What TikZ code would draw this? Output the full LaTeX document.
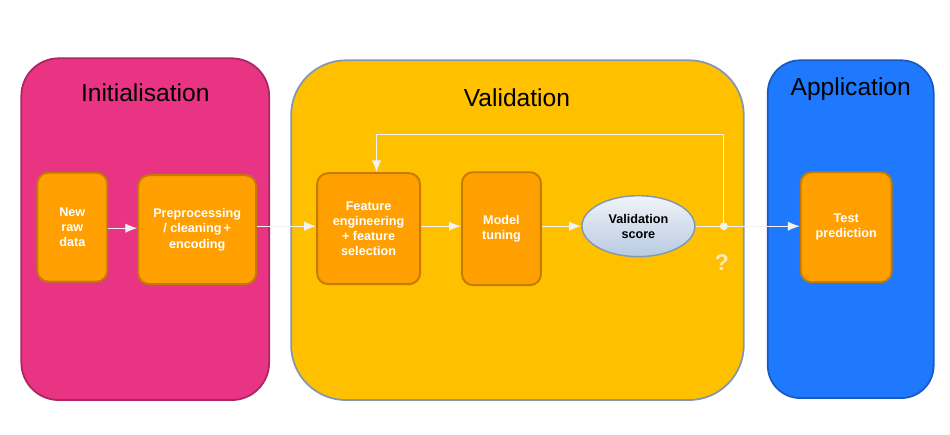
\documentclass[tikz,border=0pt]{standalone}
\usepackage{fontspec}
\setmainfont{Liberation Sans}
\usetikzlibrary{shapes, arrows, arrows.meta}
\usetikzlibrary{positioning}

\definecolor{initPink}{RGB}{232,52,130}
\definecolor{initBorder}{RGB}{172,38,98}
\definecolor{valYellow}{RGB}{255,192,0}
\definecolor{valBorder}{RGB}{132,151,176}
\definecolor{appBlue}{RGB}{30,121,255}
\definecolor{appBorder}{RGB}{24,90,190}
\definecolor{stepOrange}{RGB}{255,160,0}
\definecolor{stepBorder}{RGB}{196,124,0}
\definecolor{arrowWhite}{RGB}{242,242,242}
\definecolor{scoreTop}{RGB}{240,244,249}
\definecolor{scoreBottom}{RGB}{184,202,224}
\definecolor{scoreBorder}{RGB}{128,150,178}
\definecolor{askYellow}{RGB}{255,234,180}

\begin{document}
\begin{tikzpicture}[x=0.02cm, y=-0.02cm, >={Latex[length=2.4mm, width=1.9mm]}]
	\draw[use as bounding box, transparent] (0,0) rectangle (950,434);

	% Define the macros.
	% \pipelineStage
	% 1st argument: Name of the stage node.
	% 2nd argument: Centre of the stage.
	% 3rd argument: Width and height of the stage (in px).
	% 4th argument: Options for the stage body.
	% 5th argument: Title of the stage.
	% 6th argument: Position of the title.
	\newcommand{\pipelineStage}[6]{
		\node[#4, minimum width=#3] (#1) at #2 {};
		\node[font=\fontsize{14}{16}\selectfont] (#1Title) at #6 {#5};
	}
	% \pipelineStep
	% 1st argument: Name of the step node.
	% 2nd argument: Centre of the step.
	% 3rd argument: Width of the step (in px).
	% 4th argument: Height of the step (in px).
	% 5th argument: Text of the step.
	\newcommand{\pipelineStep}[5]{
		\node[draw=stepBorder, fill=stepOrange, line width=1.1pt, rounded corners=0.22cm,
			minimum width=#3*0.02cm, minimum height=#4*0.02cm, inner sep=1pt,
			align=center, text=white, font=\bfseries\fontsize{7.2}{8.6}\selectfont] (#1) at #2 {#5};
	}

	% STAGES
	\pipelineStage{init}{(145,229)}{248*0.02cm}{draw=initBorder, fill=initPink, line width=1pt, rounded corners=0.75cm, minimum height=342*0.02cm}{Initialisation}{(145,92)}
	\pipelineStage{valid}{(517.5,230)}{453*0.02cm}{draw=valBorder, fill=valYellow, line width=1pt, rounded corners=1.1cm, minimum height=340*0.02cm}{Validation}{(517,97)}
	\pipelineStage{app}{(851,229)}{166*0.02cm}{draw=appBorder, fill=appBlue, line width=1pt, rounded corners=0.65cm, minimum height=338*0.02cm}{Application}{(851,89)}

	% STEPS
	\pipelineStep{raw}{(72,227)}{70}{109}{New\\raw\\data}
	\pipelineStep{prep}{(197,229.5)}{118}{109}{Preprocessing\\/ cleaning\,+\\encoding}
	\pipelineStep{feat}{(368.5,228.5)}{103}{111}{Feature\\engineering\\+ feature\\selection}
	\pipelineStep{tune}{(501.5,228.5)}{79}{113}{Model\\tuning}
	\pipelineStep{test}{(846.5,227)}{91}{110}{Test\\prediction}

	% Validation score
	\node[ellipse, draw=scoreBorder, line width=0.8pt, top color=scoreTop, bottom color=scoreBottom,
		minimum width=113*0.02cm, minimum height=61*0.02cm, inner sep=0pt, align=center,
		font=\bfseries\fontsize{7.2}{8.6}\selectfont] (score) at (638.5,226) {Validation\\score};

	% Arrows
	\coordinate (split) at (724,226);
	\coordinate (loop) at (724,134);
	\draw[->, arrowWhite, line width=0.7pt] (raw.east |- 0,228) -- (prep.west |- 0,228);
	\draw[->, arrowWhite, line width=0.7pt] (prep.east |- 0,226) -- (feat.west |- 0,226);
	\draw[->, arrowWhite, line width=0.7pt] (feat.east |- 0,226) -- (tune.west |- 0,226);
	\draw[->, arrowWhite, line width=0.7pt] (tune.east |- 0,226) -- (score.west);
	\draw[arrowWhite, line width=0.7pt] (score.east) -- (split);
	\draw[->, arrowWhite, line width=0.7pt] (split) -- (test.west |- split);
	\draw[->, arrowWhite, line width=0.7pt] (split) -- (loop) -| ([xshift=0.16cm]feat.north);
	\fill[arrowWhite] (split) circle (4);

	\node[text=askYellow, font=\bfseries\fontsize{13}{15}\selectfont] (ask) at (722,262) {?};

\end{tikzpicture}
\end{document}
